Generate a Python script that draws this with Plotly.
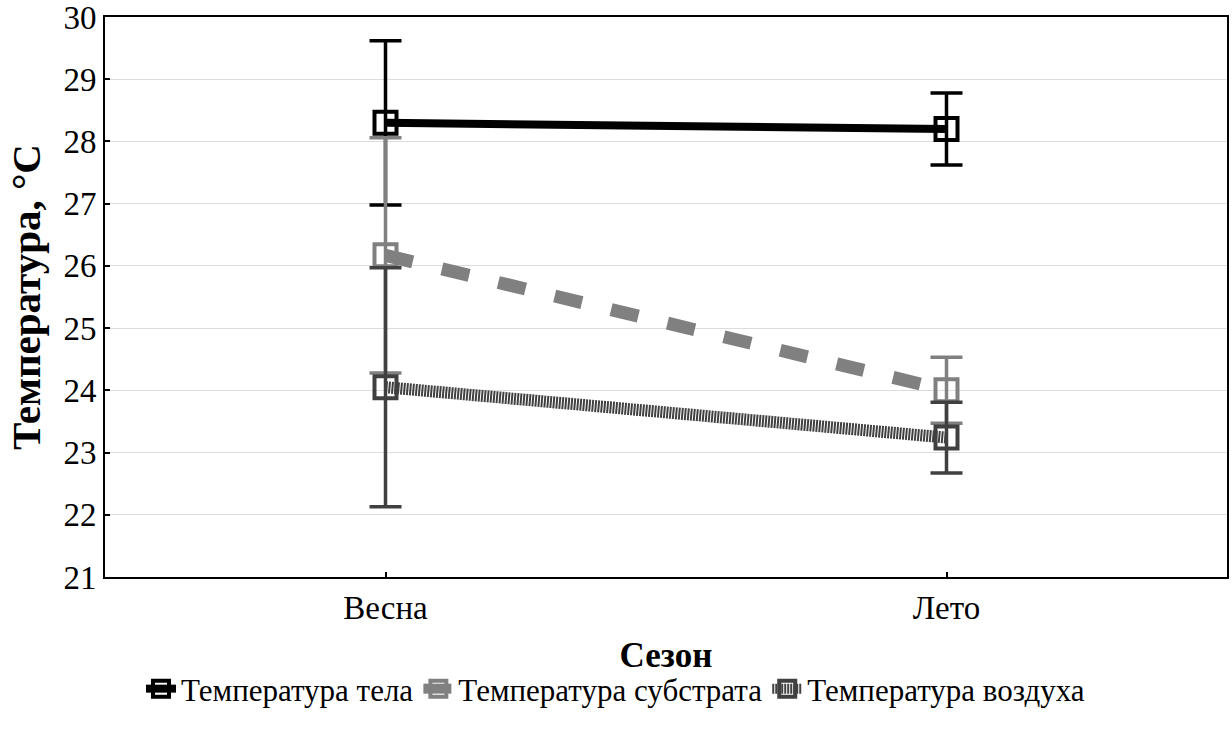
import plotly.graph_objects as go

seasons = ["Весна", "Лето"]
body_mean = [28.30, 28.20]
body_err = [1.32, 0.58]
substrate_mean = [26.17, 24.00]
substrate_err = [1.89, 0.53]
air_mean = [24.05, 23.24]
air_err = [1.92, 0.57]
y_ticks = [21, 22, 23, 24, 25, 26, 27, 28, 29, 30]

names = ["Температура тела", "Температура субстрата", "Температура воздуха"]
colors = ["#000000", "#808080", "#404040"]
means = [body_mean, substrate_mean, air_mean]
errs = [body_err, substrate_err, air_err]
line_styles = [dict(width=8, dash="solid"),
               dict(width=13, dash="28px,30px"),
               dict(width=12, dash="2px,1px")]

FONT = "Times New Roman, Liberation Serif, Tinos, serif"
fig = go.Figure()
for nm, c, m, e, ls in zip(names, colors, means, errs, line_styles):
    fig.add_trace(go.Scatter(
        x=seasons, y=m, name=nm, mode="lines+markers",
        line=dict(color=c, **ls),
        marker=dict(symbol="square-open", size=22, color=c, line=dict(width=4, color=c)),
        error_y=dict(type="data", array=e, visible=True, color=c, thickness=3.5, width=16),
    ))

fig.update_layout(
    width=1232, height=730,
    margin=dict(l=105, r=5, t=17, b=153, autoexpand=False),
    plot_bgcolor="white", paper_bgcolor="white",
    font=dict(family=FONT, size=30, color="black"),
    showlegend=True,
    legend=dict(orientation="h", x=0.455, xanchor="center",
                y=-0.2, yanchor="middle",
                font=dict(family=FONT, size=31, color="black"),
                itemwidth=30, tracegroupgap=0, bgcolor="rgba(0,0,0,0)"),
)
fig.update_xaxes(
    type="category", range=[-0.5, 1.5],
    showline=True, linecolor="black", linewidth=2, mirror=True,
    ticks="inside", ticklen=5, tickcolor="black", tickwidth=1.5,
    showgrid=False, zeroline=False,
    tickfont=dict(family=FONT, size=33),
    title=dict(text="<b>Сезон</b>", font=dict(family=FONT, size=35), standoff=18),
)
fig.update_yaxes(
    range=[20.999, 30.001], tickmode="array", tickvals=y_ticks,
    ticklabeloverflow="allow",
    showline=True, linecolor="black", linewidth=2, mirror=True,
    ticks="inside", ticklen=5, tickcolor="black", tickwidth=1.5,
    showgrid=True, gridcolor="#dcdcdc", gridwidth=1, zeroline=False,
    tickfont=dict(family=FONT, size=33),
    title=dict(text="<b>Температура, °С</b>", font=dict(family=FONT, size=41), standoff=10),
)
fig.write_html("out.html")
